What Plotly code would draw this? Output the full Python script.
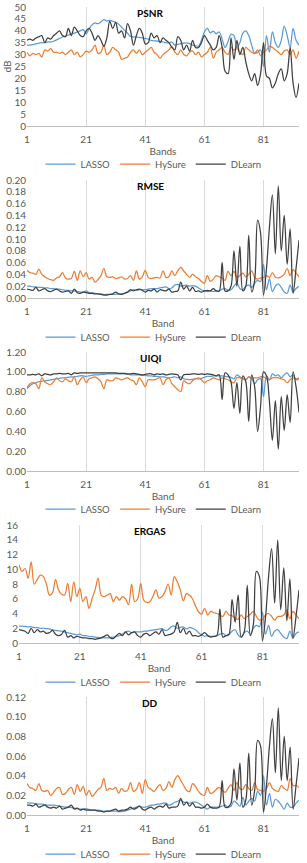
import plotly.graph_objects as go

bands = list(range(1, 94))
series_names = ["LASSO", "HySure", "DLearn"]
colors = ["#5B9BD5", "#ED7D31", "#404040"]

psnr_lasso = [34.0,34.0,34.2,34.5,34.8,35.0,35.0,35.3,35.3,35.6,36.2,36.8,37.4,37.8,38.2,38.8,39.0,39.5,40.0,40.5,
              38.8,40.9,42.5,43.3,43.0,43.7,44.7,44.1,44.4,44.0,43.6,42.8,41.5,40.2,39.0,37.6,37.4,37.4,37.2,37.0,
              36.8,36.5,36.0,35.8,35.7,35.5,35.3,35.0,34.9,35.3,34.0,34.3,34.6,34.8,34.9,34.6,34.0,33.8,33.5,36.0,
              39.5,41.0,39.1,39.9,38.8,39.5,36.5,33.0,35.5,38.5,38.0,33.0,35.0,39.0,40.0,38.0,34.0,30.5,31.0,32.0,
              25.0,38.0,31.0,39.5,35.0,33.0,36.0,42.0,38.0,33.0,41.0,36.0,34.0]
psnr_hysure = [31,29.5,30.5,30,30.5,29,32,31.5,32.5,31,31,30.5,31,30,31,32,30,31,29,30,
               31.5,31,32,34,30.5,31,34,30,31,33,32,31,28,28.5,29,31,32,30.5,32,30,
               31,32,33,31,30,28.5,30,31,32,33.5,31,30,32,30,29.5,31,31.5,30,31,29,
               30,31,33,28.5,31,32,33,31,30,33,32,32.5,31,30,33,32,31,30.5,32,29.5,
               31,32,33.5,33,32,31,30,31.5,32,30,32,28.5,31.5]
psnr_dlearn = [36,36.5,36,37,37.5,38,35,37,36.5,38,39,40,38,37.5,41,38,41.5,40,38,37.5,
               40,41,39,36,38,36,33.5,37,44,41,43.5,39,40,37,43,40,34,38,41,39,
               34.5,35,39,37,38,35,37,36,35,33,32,37.5,36,32,34,31.5,36,33,33,35,
               38,36,34,32,33,38,33,23,22,37,28,36,30,33,27,22,19,22,17,22,
               35,21,20,16,18,22,24,19,22,33,18,12,18]

rmse_lasso = [0.020,0.020,0.019,0.019,0.018,0.018,0.017,0.017,0.016,0.016,0.015,0.015,0.014,0.013,0.013,0.012,0.012,0.011,0.010,0.010,
              0.012,0.009,0.009,0.008,0.007,0.007,0.006,0.006,0.006,0.006,0.006,0.007,0.007,0.008,0.010,0.012,0.014,0.013,0.014,0.014,
              0.014,0.015,0.016,0.016,0.016,0.017,0.018,0.019,0.016,0.017,0.022,0.023,0.020,0.021,0.022,0.020,0.021,0.020,0.017,0.014,
              0.012,0.011,0.012,0.011,0.012,0.012,0.015,0.016,0.013,0.014,0.020,0.025,0.016,0.014,0.020,0.022,0.018,0.025,0.030,0.028,
              0.057,0.014,0.033,0.011,0.020,0.024,0.018,0.010,0.008,0.022,0.010,0.016,0.020]
rmse_hysure = [0.047,0.043,0.042,0.040,0.049,0.040,0.036,0.033,0.031,0.030,0.034,0.036,0.043,0.034,0.032,0.033,0.045,0.030,0.046,0.036,
               0.043,0.032,0.035,0.027,0.031,0.038,0.050,0.036,0.035,0.036,0.033,0.034,0.036,0.032,0.033,0.038,0.030,0.046,0.032,0.036,
               0.047,0.035,0.033,0.034,0.035,0.034,0.046,0.035,0.036,0.046,0.038,0.046,0.052,0.046,0.040,0.035,0.040,0.036,0.033,0.028,
               0.025,0.038,0.028,0.032,0.038,0.036,0.034,0.030,0.045,0.038,0.045,0.035,0.038,0.042,0.036,0.040,0.046,0.035,0.032,0.034,
               0.035,0.038,0.035,0.043,0.035,0.034,0.036,0.040,0.050,0.038,0.048,0.042,0.036]
rmse_dlearn = [0.015,0.014,0.013,0.018,0.012,0.014,0.016,0.012,0.011,0.013,0.015,0.012,0.010,0.011,0.012,0.008,0.015,0.009,0.008,0.010,
               0.009,0.008,0.008,0.007,0.007,0.006,0.005,0.005,0.006,0.007,0.010,0.007,0.006,0.008,0.010,0.014,0.012,0.014,0.015,0.013,
               0.010,0.013,0.012,0.015,0.010,0.014,0.013,0.012,0.015,0.010,0.011,0.012,0.027,0.015,0.020,0.012,0.018,0.011,0.012,0.010,
               0.012,0.013,0.012,0.016,0.012,0.012,0.060,0.012,0.012,0.020,0.080,0.020,0.088,0.012,0.020,0.106,0.010,0.030,0.132,0.110,
               0.005,0.050,0.120,0.175,0.075,0.190,0.080,0.140,0.057,0.117,0.008,0.050,0.098]

uiqi_lasso = [0.83,0.86,0.88,0.89,0.90,0.905,0.91,0.915,0.92,0.925,0.93,0.935,0.94,0.94,0.945,0.95,0.95,0.955,0.96,0.96,
              0.955,0.96,0.965,0.97,0.97,0.975,0.975,0.98,0.98,0.98,0.98,0.98,0.98,0.98,0.975,0.97,0.97,0.97,0.97,0.965,
              0.965,0.96,0.96,0.955,0.955,0.95,0.95,0.945,0.94,0.945,0.95,0.94,0.95,0.93,0.925,0.92,0.925,0.93,0.93,0.935,
              0.945,0.955,0.955,0.96,0.96,0.96,0.96,0.955,0.95,0.945,0.93,0.97,0.95,0.93,0.92,0.95,0.93,0.88,0.92,0.93,
              0.75,0.96,0.92,0.98,0.96,0.97,0.94,0.97,0.99,0.95,0.97,0.92,0.93]
uiqi_hysure = [0.84,0.88,0.89,0.88,0.83,0.94,0.90,0.88,0.87,0.90,0.94,0.91,0.90,0.93,0.91,0.90,0.95,0.87,0.92,0.95,
               0.89,0.93,0.94,0.95,0.93,0.90,0.83,0.92,0.91,0.91,0.94,0.93,0.92,0.93,0.94,0.92,0.91,0.87,0.94,0.90,
               0.85,0.92,0.92,0.92,0.93,0.94,0.87,0.92,0.94,0.88,0.85,0.82,0.80,0.91,0.89,0.88,0.91,0.93,0.94,0.92,
               0.89,0.91,0.92,0.94,0.93,0.92,0.94,0.93,0.92,0.90,0.89,0.94,0.94,0.93,0.92,0.95,0.94,0.94,0.94,0.95,
               0.95,0.93,0.92,0.94,0.94,0.94,0.93,0.92,0.89,0.92,0.94,0.93,0.94]
uiqi_dlearn = [0.97,0.97,0.975,0.97,0.98,0.96,0.98,0.975,0.97,0.98,0.98,0.985,0.98,0.98,0.985,0.97,0.99,0.985,0.99,0.99,
               0.99,0.99,0.99,0.99,0.99,0.99,0.99,0.99,0.99,0.99,0.99,0.985,0.985,0.985,0.98,0.98,0.985,0.98,0.975,0.97,
               0.975,0.98,0.98,0.97,0.98,0.975,0.98,0.97,0.975,0.98,0.975,0.97,0.92,0.97,0.975,0.975,0.98,0.98,0.975,0.98,
               0.975,0.98,0.975,0.97,0.96,0.97,0.72,0.99,0.97,0.90,0.63,0.89,0.58,0.96,0.90,0.50,0.97,0.85,0.40,0.65,
               1.00,0.96,0.70,0.31,0.71,0.22,0.75,0.41,0.77,0.49,1.00,0.85,0.59]

ergas_lasso = [2.3,2.3,2.25,2.2,2.2,2.1,2.1,2.0,2.0,1.95,1.9,1.8,1.7,1.65,1.6,1.5,1.4,1.3,1.2,1.1,
               1.2,1.0,1.0,0.9,0.85,0.8,0.75,0.7,0.7,0.7,0.75,0.8,0.9,1.0,1.2,1.5,1.6,1.4,1.5,1.5,
               1.5,1.6,1.6,1.7,1.75,1.8,1.9,1.95,1.7,1.8,2.2,2.3,2.0,2.1,2.2,1.9,2.1,2.0,1.8,1.4,
               1.1,0.9,1.0,0.9,0.9,1.0,1.2,1.3,1.0,1.1,1.6,1.8,1.1,0.8,1.4,1.6,1.2,2.0,2.4,2.2,
               4.2,1.2,2.4,0.9,1.6,1.8,1.3,0.8,0.6,1.6,0.7,1.3,1.5]
ergas_hysure = [10.6,9.7,10.1,8.8,11.0,8.0,8.6,9.2,9.0,8.0,6.5,6.8,8.6,7.2,6.6,6.5,8.1,5.6,8.3,6.3,
                7.4,5.6,6.3,4.7,6.0,7.2,8.8,6.5,6.3,6.5,6.7,5.6,6.3,5.8,6.3,6.0,5.2,8.0,5.6,6.0,
                8.1,5.8,5.5,5.6,6.3,7.2,6.1,6.3,7.0,8.0,6.5,9.0,8.3,7.2,5.7,6.7,6.5,6.0,5.0,4.2,
                3.9,4.7,3.8,4.3,4.1,4.0,3.8,3.6,4.3,3.8,3.7,3.4,3.2,3.8,3.3,3.6,3.9,4.3,3.6,3.1,
                3.2,3.8,4.0,3.6,3.1,3.6,3.6,3.8,4.5,3.3,4.3,3.8,3.3]
ergas_dlearn = [1.8,1.7,1.6,1.3,2.0,1.4,1.8,1.5,1.6,1.3,1.4,1.7,1.2,1.0,1.2,1.7,0.8,1.0,0.7,0.9,
                0.8,0.7,0.7,0.6,0.6,0.5,0.6,0.7,0.9,1.1,0.7,0.6,1.0,1.3,1.0,1.5,1.1,1.4,1.5,1.0,
                0.8,1.2,1.3,1.0,1.3,1.5,1.2,1.8,1.0,1.1,1.2,1.5,2.8,1.4,2.0,1.2,1.6,1.0,1.0,0.9,
                1.1,1.4,1.0,0.8,0.9,1.0,4.6,0.8,1.0,1.2,5.9,2.8,6.5,0.8,1.5,7.8,1.0,2.5,9.7,9.0,
                0.3,3.5,9.0,12.8,5.4,14.0,4.5,10.2,3.0,8.7,0.6,3.5,7.2]

dd_lasso = [0.0125,0.012,0.012,0.0115,0.011,0.011,0.0105,0.010,0.010,0.010,0.0095,0.009,0.0085,0.008,0.008,0.0075,0.007,0.0065,0.006,0.006,
            0.0065,0.0055,0.005,0.005,0.005,0.0045,0.004,0.004,0.004,0.004,0.004,0.0035,0.0035,0.004,0.005,0.006,0.007,0.008,0.009,0.008,
            0.008,0.009,0.010,0.010,0.011,0.011,0.012,0.012,0.010,0.011,0.013,0.014,0.015,0.013,0.013,0.012,0.013,0.013,0.012,0.010,
            0.008,0.006,0.008,0.008,0.008,0.008,0.009,0.010,0.008,0.009,0.014,0.012,0.009,0.018,0.010,0.014,0.017,0.014,0.024,0.020,
            0.040,0.010,0.022,0.008,0.016,0.014,0.010,0.006,0.012,0.008,0.008,0.012,0.015]
dd_hysure = [0.032,0.028,0.027,0.025,0.032,0.025,0.024,0.025,0.020,0.023,0.027,0.028,0.021,0.022,0.026,0.028,0.021,0.031,0.024,0.029,
             0.020,0.025,0.019,0.022,0.026,0.028,0.037,0.025,0.027,0.026,0.028,0.022,0.027,0.024,0.025,0.033,0.024,0.026,0.033,0.022,
             0.036,0.028,0.026,0.024,0.028,0.031,0.025,0.027,0.034,0.028,0.036,0.040,0.035,0.030,0.025,0.024,0.032,0.029,0.024,0.021,
             0.020,0.028,0.022,0.023,0.026,0.028,0.025,0.023,0.027,0.031,0.025,0.033,0.027,0.026,0.031,0.027,0.025,0.033,0.026,0.025,
             0.024,0.027,0.033,0.027,0.025,0.024,0.030,0.027,0.025,0.037,0.030,0.030,0.028]
dd_dlearn = [0.010,0.010,0.009,0.011,0.008,0.009,0.010,0.008,0.007,0.008,0.007,0.009,0.006,0.007,0.008,0.010,0.006,0.007,0.005,0.006,
             0.005,0.005,0.005,0.005,0.004,0.004,0.003,0.004,0.004,0.005,0.006,0.004,0.005,0.005,0.006,0.008,0.006,0.007,0.009,0.006,
             0.005,0.007,0.008,0.006,0.008,0.009,0.008,0.011,0.007,0.008,0.008,0.009,0.017,0.010,0.013,0.009,0.012,0.008,0.008,0.007,
             0.008,0.011,0.008,0.007,0.007,0.008,0.035,0.008,0.008,0.012,0.047,0.015,0.053,0.008,0.015,0.063,0.010,0.025,0.076,0.070,
             0.003,0.030,0.070,0.098,0.043,0.109,0.035,0.080,0.035,0.069,0.006,0.030,0.058]

panels = [
    dict(title="PSNR", xtitle="Bands", ytitle="dB", data=[psnr_lasso, psnr_hysure, psnr_dlearn],
         yrange=[0, 50], dtick=5, fmt="d", xdom=[27/307, 299/307], top=7, bottom=126, leg=164),
    dict(title="RMSE", xtitle="Band", ytitle=None, data=[rmse_lasso, rmse_hysure, rmse_dlearn],
         yrange=[0, 0.2], dtick=0.02, fmt=".2f", xdom=[27/307, 299/307], top=180, bottom=298, leg=337),
    dict(title="UIQI", xtitle="Band", ytitle=None, data=[uiqi_lasso, uiqi_hysure, uiqi_dlearn],
         yrange=[0, 1.2], dtick=0.2, fmt=".2f", xdom=[27/307, 299/307], top=352, bottom=471, leg=509),
    dict(title="ERGAS", xtitle="Band", ytitle=None, data=[ergas_lasso, ergas_hysure, ergas_dlearn],
         yrange=[0, 16], dtick=2, fmt="d", xdom=[19/307, 299/307], top=525, bottom=643, leg=682),
    dict(title="DD", xtitle="Band", ytitle=None, data=[dd_lasso, dd_hysure, dd_dlearn],
         yrange=[0, 0.12], dtick=0.02, fmt=".2f", xdom=[27/307, 299/307], top=697, bottom=815, leg=854),
]

H = 863
W = 307
FONT = "Lato, 'Open Sans', sans-serif"
TICK_COLOR = "#595959"

fig = go.Figure()
layout = dict(width=W, height=H, margin=dict(l=0, r=0, t=0, b=0, autoexpand=False),
              paper_bgcolor="white", plot_bgcolor="white",
              font=dict(family=FONT, size=10, color=TICK_COLOR),
              annotations=[])

for i, p in enumerate(panels):
    n = "" if i == 0 else str(i + 1)
    xa = "x" + n
    ya = "y" + n
    lg = "legend" + n
    for name, col, vals in zip(series_names, colors, p["data"]):
        fig.add_trace(go.Scatter(x=bands, y=vals, name=name, mode="lines",
                                 line=dict(color=col, width=1.25, shape="spline", smoothing=1.0),
                                 xaxis=xa, yaxis=ya, legend=lg))
    layout["xaxis" + n] = dict(domain=p["xdom"], anchor=ya, range=[1, 93], automargin=False,
                               tickvals=[1, 21, 41, 61, 81], showgrid=True, gridcolor="#d9d9d9",
                               gridwidth=1, showline=True, linecolor="#bfbfbf", linewidth=1,
                               zeroline=False, ticks="", ticklabelstandoff=4,
                               tickfont=dict(size=10, color=TICK_COLOR),
                               title=dict(text=p["xtitle"], standoff=3,
                                          font=dict(size=10, color=TICK_COLOR)))
    ydict = dict(domain=[1 - p["bottom"] / H, 1 - p["top"] / H], anchor=xa, automargin=False,
                 range=p["yrange"], dtick=p["dtick"], tick0=0, showgrid=False,
                 zeroline=False, showline=False, ticks="",
                 tickfont=dict(size=10, color=TICK_COLOR))
    if p["fmt"] != "d":
        ydict["tickformat"] = p["fmt"]
    if p["ytitle"]:
        ydict["title"] = dict(text=p["ytitle"], standoff=0, font=dict(size=10, color=TICK_COLOR))
    layout["yaxis" + n] = ydict
    layout[lg] = dict(orientation="h", x=0.5, xanchor="center",
                      y=1 - p["leg"] / H, yanchor="middle", bgcolor="rgba(0,0,0,0)",
                      font=dict(size=9.5, color=TICK_COLOR), traceorder="normal",
                      itemwidth=30, tracegroupgap=0)
    layout["annotations"].append(dict(text="<b>" + p["title"] + "</b>", xref="paper", yref="paper",
                                      x=0.49, y=1 - (p["top"] + 6) / H, xanchor="center",
                                      yanchor="middle", showarrow=False,
                                      font=dict(size=10, color="black")))

fig.update_layout(**layout)
fig.write_html("out.html", config={"displayModeBar": False},
               post_script="document.body.style.margin='0px';document.body.style.overflow='hidden';")
